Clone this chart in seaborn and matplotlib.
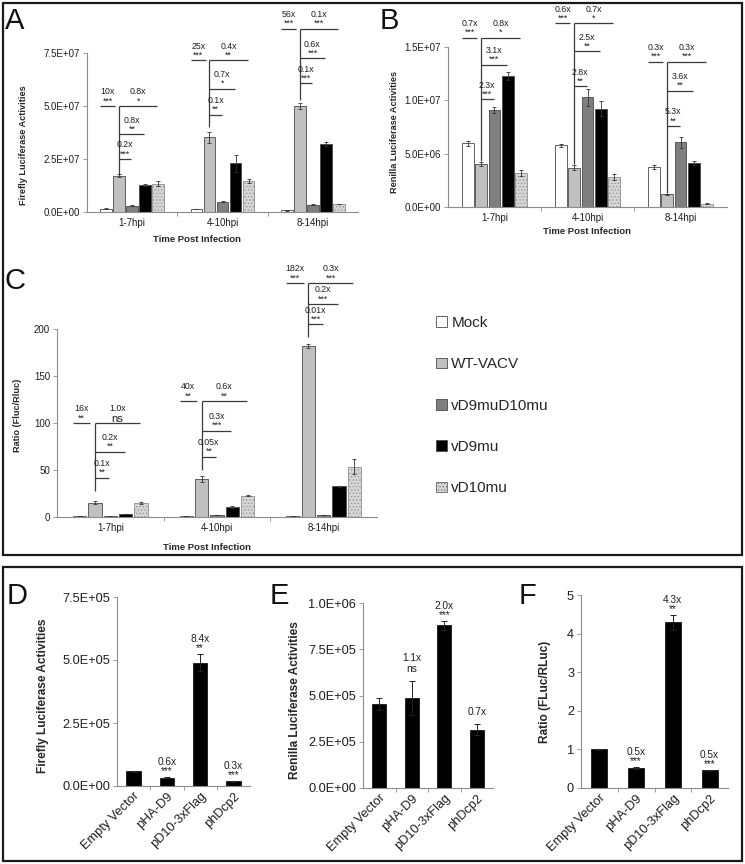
import numpy as np
import pandas as pd
import matplotlib
matplotlib.use('Agg')
import matplotlib.pyplot as plt
import seaborn as sns
from matplotlib.patches import Patch, Rectangle
from matplotlib.ticker import FuncFormatter, FixedLocator

sns.set_style('ticks')
plt.rcParams['font.family'] = ['Liberation Sans', 'DejaVu Sans']
plt.rcParams['hatch.linewidth'] = 0.5

# ---------------- data ----------------
times = ['1-7hpi', '4-10hpi', '8-14hpi']
strains = ['Mock', 'WT-VACV', 'vD9muD10mu', 'vD9mu', 'vD10mu']
strain_colors = ['#ffffff', '#c0c0c0', '#7f7f7f', '#000000', '#d6d6d6']

# rows = strains, columns = times
fluc_mean = [[1.6e6, 1.4e6, 0.9e6], [1.71e7, 3.52e7, 5.0e7], [3.0e6, 4.9e6, 3.5e6],
             [1.27e7, 2.31e7, 3.2e7], [1.34e7, 1.46e7, 3.8e6]]
fluc_err = [[3e5, 2e5, 2e5], [6e5, 2.5e6, 1.5e6], [3e5, 4e5, 2e5],
            [4e5, 4e6, 1e6], [1e6, 1e6, 2e5]]
rluc_mean = [[5.97e6, 5.8e6, 3.75e6], [4.0e6, 3.7e6, 1.2e6], [9.1e6, 1.03e7, 6.05e6],
             [1.23e7, 9.2e6, 4.15e6], [3.2e6, 2.8e6, 3.0e5]]
rluc_err = [[2.5e5, 1.5e5, 1.5e5], [2e5, 2.5e5, 5e4], [2.5e5, 8e5, 5e5],
            [4e5, 7e5, 2e5], [3e5, 3e5, 5e4]]
ratio_mean = [[0.9, 0.9, 0.9], [15.3, 40.2, 182.0], [0.8, 1.8, 2.0],
              [3.0, 11.0, 32.7], [15.3, 22.8, 53.7]]
ratio_err = [[0.1, 0.1, 0.1], [1.5, 3.0, 2.0], [0.1, 0.2, 0.3],
             [0.3, 1.0, 0.7], [1.0, 0.7, 7.5]]

# significance brackets: left (label, stars, level); stem bottom; right (target strain idx, level, label, stars)
fluc_left = [('10x', '***', 5.0e7), ('25x', '***', 7.15e7), ('56x', '***', 8.65e7)]
fluc_stem = [1.75e7, 4.0e7, 5.3e7]
fluc_right = [[(4, 5.0e7, '0.8x', '*'), (3, 3.66e7, '0.8x', '**'), (2, 2.5e7, '0.2x', '***')],
              [(4, 7.15e7, '0.4x', '**'), (3, 5.82e7, '0.7x', '*'), (2, 4.59e7, '0.1x', '**')],
              [(4, 8.65e7, '0.1x', '***'), (3, 7.26e7, '0.6x', '***'), (2, 6.08e7, '0.1x', '***')]]
rluc_left = [('0.7x', '***', 1.587e7), ('0.6x', '***', 1.724e7), ('0.3x', '***', 1.363e7)]
rluc_stem = [4.3e6, 4.0e6, 1.3e6]
rluc_right = [[(4, 1.587e7, '0.8x', '*'), (3, 1.335e7, '3.1x', '***'), (2, 1.008e7, '2.3x', '***')],
              [(4, 1.724e7, '0.7x', '*'), (3, 1.46e7, '2.5x', '**'), (2, 1.133e7, '2.8x', '**')],
              [(4, 1.363e7, '0.3x', '***'), (3, 1.089e7, '3.6x', '**'), (2, 7.6e6, '5.3x', '**')]]
ratio_left = [('16x', '**', 100), ('40x', '**', 123.5), ('182x', '***', 249)]
ratio_stem = [28, 50.5, 191]
ratio_right = [[(4, 100, '1.0x', 'ns'), (3, 69.4, '0.2x', '**'), (2, 42, '0.1x', '**')],
               [(4, 123.5, '0.6x', '**'), (3, 91.8, '0.3x', '***'), (2, 64, '0.05x', '**')],
               [(4, 249, '0.3x', '***'), (3, 226.6, '0.2x', '***'), (2, 205, '0.01x', '***')]]

plasmids = ['Empty Vector', 'pHA-D9', 'pD10-3xFlag', 'phDcp2']
d_mean = [5.8e4, 3.3e4, 4.9e5, 1.8e4]
d_err = [3e3, 3e3, 3.5e4, 2e3]
d_num = ['', '0.6x', '8.4x', '0.3x']
d_star = ['', '***', '**', '***']
e_mean = [4.54e5, 4.87e5, 8.8e5, 3.15e5]
e_err = [3.5e4, 9e4, 2.5e4, 3e4]
e_num = ['', '1.1x', '2.0x', '0.7x']
e_star = ['', 'ns', '***', '']
f_mean = [1.0, 0.52, 4.29, 0.46]
f_err = [0.02, 0.03, 0.2, 0.01]
f_num = ['', '0.5x', '4.3x', '0.5x']
f_star = ['', '***', '**', '***']

# ---------------- figure ----------------
W, H = 745, 864
fig = plt.figure(figsize=(W / 100, H / 100), dpi=100)


def px_axes(l, r, t, b):
    return fig.add_axes([l / W, 1 - b / H, (r - l) / W, (b - t) / H])


AX_COL = '#8c8c8c'
LINE_COL = '#3a3a3a'
TXT_COL = '#1e1e1e'
sci = FuncFormatter(lambda v, p: f'{v:.1E}')


def style_axes(ax, n, ticksize):
    sns.despine(ax=ax)
    for s in ('left', 'bottom'):
        ax.spines[s].set_color(AX_COL)
        ax.spines[s].set_linewidth(0.8)
    ax.set_xlim(-0.5, n - 0.5)
    ax.xaxis.set_minor_locator(FixedLocator(np.arange(0.5, n - 0.5, 1.0)))
    ax.tick_params(axis='x', which='major', length=0, labelsize=ticksize, pad=4, colors=TXT_COL)
    ax.tick_params(axis='x', which='minor', length=3, width=0.6, color=AX_COL)
    ax.tick_params(axis='y', length=3, width=0.6, color=AX_COL, labelsize=ticksize, pad=2,
                   labelcolor=TXT_COL)
    ax.grid(False)


def label_pair(ax, x, y, num, star, fs, num_off, star_off):
    if star == 'ns':
        ax.annotate('ns', (x, y), xytext=(0, 0.8), textcoords='offset points', ha='center',
                    va='baseline', fontsize=fs * 1.3, color=TXT_COL, annotation_clip=False)
        num_off += 0.6
    elif star:
        ax.annotate(star, (x, y), xytext=(0, star_off), textcoords='offset points', ha='center',
                    va='baseline', fontsize=fs, color=TXT_COL, annotation_clip=False)
    ax.annotate(num, (x, y), xytext=(0, num_off), textcoords='offset points', ha='center',
                va='baseline', fontsize=fs, color=TXT_COL, annotation_clip=False)


def time_panel(ax, means, errs, left, stem, right, ylim, yticks, fmt, ylabel,
               ylab_xy, xlab_xy):
    df = pd.DataFrame([(t, s, means[i][j]) for i, s in enumerate(strains)
                       for j, t in enumerate(times)], columns=['time', 'strain', 'value'])
    sns.barplot(data=df, x='time', y='value', hue='strain', order=times, hue_order=strains,
                palette=strain_colors, width=0.72, gap=0.12, errorbar=None, legend=False,
                edgecolor='#4a4a4a', linewidth=0.6, ax=ax)
    conts = list(ax.containers)
    for i, cont in enumerate(conts):
        xs = [b.get_x() + b.get_width() / 2 for b in cont]
        hs = [b.get_height() for b in cont]
        if strains[i] == 'vD10mu':
            for b in cont:
                b.set_hatch('.....')
                b.set_edgecolor('#8f8f8f')
        ax.errorbar(xs, hs, yerr=errs[i], fmt='none', ecolor='#333333', elinewidth=0.6,
                    capsize=1.6, capthick=0.6)
    style_axes(ax, 3, 7)
    ax.set_ylim(*ylim)
    ax.set_yticks(yticks)
    if fmt is not None:
        ax.yaxis.set_major_formatter(fmt)
    ax.set_ylabel(ylabel, fontsize=6.6, fontweight='bold', va='center')
    ax.yaxis.set_label_coords(*ylab_xy)
    ax.set_xlabel('Time Post Infection', fontsize=6.8, fontweight='bold', va='center')
    ax.xaxis.set_label_coords(*xlab_xy)
    # brackets
    fs = 6.3
    for g in range(3):
        mock = conts[0][g]
        wt = conts[1][g]
        x0 = mock.get_x()
        x1 = wt.get_x() + 0.02
        xc = wt.get_x() + wt.get_width() / 2
        num, star, y = left[g]
        ax.plot([x0, x1], [y, y], color=LINE_COL, lw=0.9, clip_on=False, solid_capstyle='butt')
        label_pair(ax, (x0 + x1) / 2, y, num, star, fs, 8.3, 1.9)
        ytop = max(r[1] for r in right[g])
        ax.plot([xc, xc], [stem[g], ytop], color=LINE_COL, lw=0.9, clip_on=False,
                solid_capstyle='butt')
        for h, yy, num, star in right[g]:
            tb = conts[h][g]
            xe = tb.get_x() + tb.get_width() / 2 - 0.01
            ax.plot([xc, xe], [yy, yy], color=LINE_COL, lw=0.9, clip_on=False,
                    solid_capstyle='butt')
            label_pair(ax, (xc + xe) / 2, yy, num, star, fs, 8.3, 1.9)


def plasmid_panel(ax, means, errs, nums, stars, ylim, yticks, fmt, ylabel, ylab_xy):
    df = pd.DataFrame({'plasmid': plasmids, 'value': means})
    sns.barplot(data=df, x='plasmid', y='value', order=plasmids, color='black', width=0.43,
                errorbar=None, edgecolor='black', linewidth=0.5, ax=ax)
    cont = ax.containers[0]
    xs = [b.get_x() + b.get_width() / 2 for b in cont]
    hs = [b.get_height() for b in cont]
    ax.errorbar(xs, hs, yerr=errs, fmt='none', ecolor='#222222', elinewidth=0.7,
                capsize=2.2, capthick=0.7)
    style_axes(ax, 4, 9.2)
    ax.set_ylim(*ylim)
    ax.set_yticks(yticks)
    ax.yaxis.set_major_formatter(fmt)
    ax.set_xticks(range(4))
    ax.set_xticklabels(plasmids, rotation=45, ha='right', rotation_mode='anchor')
    ax.tick_params(axis='x', which='major', pad=3)
    ax.set_ylabel(ylabel, fontsize=8.6, fontweight='bold', va='center')
    ax.yaxis.set_label_coords(*ylab_xy)
    ax.set_xlabel('')
    for x, h, e, num, star in zip(xs, hs, errs, nums, stars):
        top = h + e
        if star == 'ns':
            ax.annotate('ns', (x, top), xytext=(0, 6.6), textcoords='offset points',
                        ha='center', va='baseline', fontsize=7.3, color=TXT_COL)
            ax.annotate(num, (x, top), xytext=(0, 14.8), textcoords='offset points',
                        ha='center', va='baseline', fontsize=7.3, color=TXT_COL)
        else:
            if star:
                ax.annotate(star, (x, top), xytext=(0, 2.0), textcoords='offset points',
                            ha='center', va='baseline', fontsize=7.3, color=TXT_COL)
            if num:
                ax.annotate(num, (x, top), xytext=(0, 8.6 if star else 6.8),
                            textcoords='offset points', ha='center', va='baseline',
                            fontsize=7.3, color=TXT_COL)


axA = px_axes(87, 358, 53, 212)
time_panel(axA, fluc_mean, fluc_err, fluc_left, fluc_stem, fluc_right, (0, 7.5e7),
           [0, 2.5e7, 5.0e7, 7.5e7], sci, 'Firefly Luciferase Activities',
           (-0.236, 0.42), (0.406, -0.17))

axB = px_axes(448, 727, 47, 207)
time_panel(axB, rluc_mean, rluc_err, rluc_left, rluc_stem, rluc_right, (0, 1.5e7),
           [0, 5.0e6, 1.0e7, 1.5e7], sci, 'Renilla Luciferase Activities',
           (-0.19, 0.47), (0.498, -0.156))

axC = px_axes(57, 377, 329, 517)
time_panel(axC, ratio_mean, ratio_err, ratio_left, ratio_stem, ratio_right, (0, 200),
           [0, 50, 100, 150, 200], None, 'Ratio (Fluc/Rluc)',
           (-0.122, 0.543), (0.469, -0.16))

axD = px_axes(117, 250, 597, 786)
plasmid_panel(axD, d_mean, d_err, d_num, d_star, (0, 7.5e5), [0, 2.5e5, 5.0e5, 7.5e5], sci,
              'Firefly Luciferase Activities', (-0.556, 0.48))
axE = px_axes(363, 493, 603, 788)
plasmid_panel(axE, e_mean, e_err, e_num, e_star, (0, 1.0e6), [0, 2.5e5, 5.0e5, 7.5e5, 1.0e6],
              sci, 'Renilla Luciferase Activities', (-0.523, 0.476))
axF = px_axes(581, 728, 595, 788)
plasmid_panel(axF, f_mean, f_err, f_num, f_star, (0, 5), [0, 1, 2, 3, 4, 5],
              FuncFormatter(lambda v, p: f'{v:.0f}'), 'Ratio (FLuc/RLuc)', (-0.245, 0.50))

# legend
handles = []
for s, c in zip(strains, strain_colors):
    if s == 'vD10mu':
        handles.append(Patch(facecolor=c, edgecolor='#6a6a6a', hatch='.....', linewidth=0.6))
    else:
        handles.append(Patch(facecolor=c, edgecolor='#4a4a4a', linewidth=0.6))
fig.legend(handles=handles, labels=strains, loc='upper left',
           bbox_to_anchor=(436 / W, 1 - 316 / H), frameon=False, fontsize=11,
           handlelength=0.7, handleheight=0.7, handletextpad=0.3, labelspacing=1.79,
           borderpad=0, borderaxespad=0)

# frames
for (l, t, r, b) in [(3, 3, 742, 555), (3, 567, 742, 861)]:
    fig.add_artist(Rectangle((l / W, 1 - b / H), (r - l) / W, (b - t) / H,
                             transform=fig.transFigure, fill=False, lw=1.6, ec='#1a1a1a'))

# panel letters
for letter, x, y in [('A', 5, 29), ('B', 380, 29), ('C', 5, 289),
                     ('D', 7, 604), ('E', 270, 604), ('F', 519, 604)]:
    fig.text(x / W, 1 - y / H, letter, fontsize=21, va='baseline', ha='left', color='#111111')

fig.savefig('out.png', dpi=100)
